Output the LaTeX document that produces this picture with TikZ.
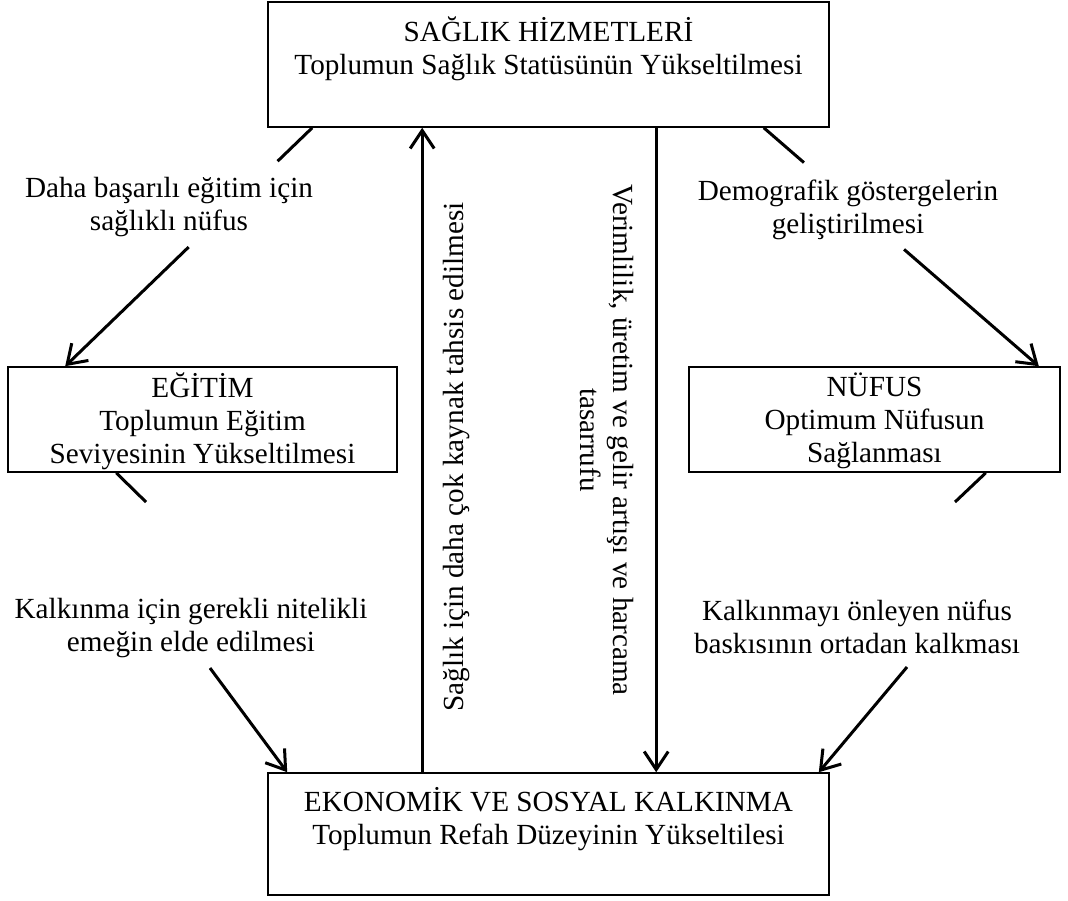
\documentclass[tikz,border=0pt]{standalone}
\usepackage{fontspec}
\setmainfont{Liberation Serif}
\usetikzlibrary{arrows.meta, positioning, calc}
\newcommand\diafont{\fontsize{14.6pt}{16.6pt}\selectfont}

\begin{document}
\begin{tikzpicture}[
  x=0.5pt, y=-0.5pt,
  box/.style  = {draw, line width=0.8pt, inner sep=0pt},
  btxt/.style = {align=center, inner sep=0pt, font=\diafont, anchor=north},
  lbl/.style  = {align=center, inner sep=0pt, font=\diafont},
  seg/.style  = {line width=1.5pt},
  arr/.style  = {line width=1.5pt, -{Straight Barb[length=9pt, width=12pt]}},
]
\fill[white] (0,0) rectangle (1068,900);
\useasboundingbox (0,0) rectangle (1068,900);

% ── Boxes ─────────────────────────────────────────────────────────────────────
\node[box, minimum width=280.5pt, minimum height=62.5pt] (saglik)   at (548.5,64.5) {};
\node[box, minimum width=194.5pt, minimum height=52.5pt] (egitim)   at (202.5,419.5) {};
\node[box, minimum width=185.5pt, minimum height=52.5pt] (nufus)    at (874.5,419.5) {};
\node[box, minimum width=280.5pt, minimum height=61pt]   (ekonomik) at (548.5,834) {};

\node[btxt] (saglik-t)   at ($(saglik.north)+(0,15)$)   {SAĞLIK HİZMETLERİ\\Toplumun Sağlık Statüsünün Yükseltilmesi};
\node[btxt] (egitim-t)   at ($(egitim.north)+(0,6)$)    {EĞİTİM\\Toplumun Eğitim\\Seviyesinin Yükseltilmesi};
\node[btxt] (nufus-t)    at ($(nufus.north)+(0,6)$)     {NÜFUS\\Optimum Nüfusun\\Sağlanması};
\node[btxt] (ekonomik-t) at ($(ekonomik.north)+(0,15)$) {EKONOMİK VE SOSYAL KALKINMA\\Toplumun Refah Düzeyinin Yükseltilesi};

% ── Vertical links ────────────────────────────────────────────────────────────
\coordinate (up-a) at ($(ekonomik.north west)+(155,0)$);
\coordinate (dn-a) at ($(saglik.south west)+(389,0)$);
\draw[arr] (up-a) -- (up-a |- saglik.south);
\draw[arr] (dn-a) -- (dn-a |- ekonomik.north);

\node[lbl, rotate=90]  (kaynak-l)  at (457,457) {Sağlık için daha çok kaynak tahsis edilmesi};
\node[lbl, rotate=-90] (verim-l)   at (607,440) {Verimlilik, üretim ve gelir artışı ve harcama\\tasarrufu};

% ── Diagonal links (broken by their labels) ──────────────────────────────────
\coordinate (tl-a) at ($(saglik.south west)+(45,0)$);
\coordinate (tl-b) at ($(egitim.north west)+(58,0)$);
\draw[seg] (tl-a) -- ($(tl-a)!0.14!(tl-b)$);
\draw[arr] ($(tl-a)!0.5!(tl-b)$) -- (tl-b);
\node[lbl] (tl-l) at (169,207) {Daha başarılı eğitim için\\sağlıklı nüfus};

\coordinate (tr-a) at ($(saglik.south east)+(-66,0)$);
\coordinate (tr-b) at ($(nufus.north east)+(-22,0)$);
\draw[seg] (tr-a) -- ($(tr-a)!0.146!(tr-b)$);
\draw[arr] ($(tr-a)!0.51!(tr-b)$) -- (tr-b);
\node[lbl] (tr-l) at (848,210) {Demografik göstergelerin\\geliştirilmesi};

\coordinate (bl-a) at ($(egitim.south west)+(109,0)$);
\coordinate (bl-m) at (146,502);
\coordinate (bl-c) at (210,668);
\coordinate (bl-b) at ($(ekonomik.north west)+(20,0)$);
\draw[seg] (bl-a) -- (bl-m);
\draw[arr] (bl-c) -- (bl-b);
\node[lbl] (bl-l) at (191,628) {Kalkınma için gerekli nitelikli\\emeğin elde edilmesi};

\coordinate (br-a) at ($(nufus.south east)+(-75,0)$);
\coordinate (br-m) at (955,502);
\coordinate (br-c) at (907,667);
\coordinate (br-b) at ($(ekonomik.north east)+(-11,0)$);
\draw[seg] (br-a) -- (br-m);
\draw[arr] (br-c) -- (br-b);
\node[lbl] (br-l) at (857,627) {Kalkınmayı önleyen nüfus\\baskısının ortadan kalkması};
\end{tikzpicture}
\end{document}
